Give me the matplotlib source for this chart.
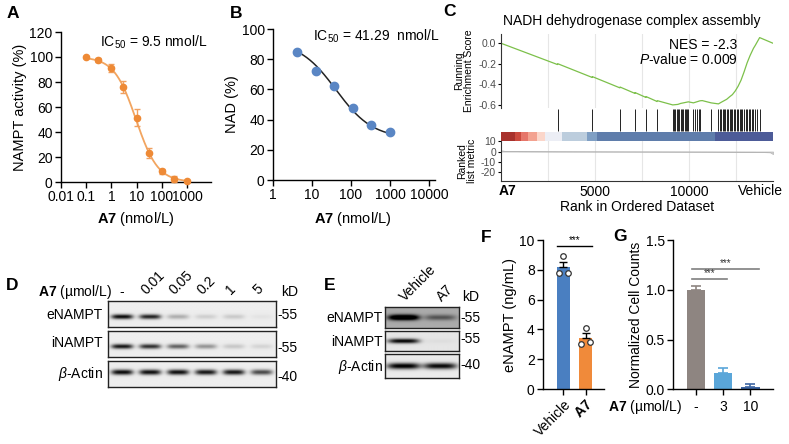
import numpy as np
import matplotlib
matplotlib.use('Agg')
import matplotlib.pyplot as plt
from matplotlib.ticker import NullLocator

# ---------------- data ----------------
A_conc = [0.1, 0.3, 1, 3, 10, 30, 100, 300, 1000]
A_activity = [100, 97.5, 91, 76, 51.5, 23, 8.5, 2.5, 1]
A_err = [1, 1.5, 3, 4.5, 7, 4, 2, 2.5, 1]
A_fit = dict(top=100, bottom=0, ic50=9.5, hill=1.0)

B_conc = [4.1, 12.3, 37, 111, 333, 1000]
B_nad = [84.5, 72.5, 62.5, 47.5, 36.5, 31.5]
B_fit = dict(top=92, bottom=27.5, ic50=41.29, hill=0.92)

C_total = 14460
C_es_rank = [0, 3000, 3015, 4850, 4860, 6320, 6330, 7120, 7130, 7700, 7713, 8300, 8316,
             9130, 9400, 9560, 9700, 9830, 9960, 10230, 10580, 10700, 11170, 11560, 11700,
             11850, 12000, 12160, 12300, 12450, 12600, 12760, 12920, 13085, 13240, 13420,
             13520, 13750, 14460]
C_es_val = [0, -0.207, -0.199, -0.333, -0.325, -0.434, -0.426, -0.488, -0.480, -0.527, -0.519,
            -0.567, -0.559, -0.600, -0.595, -0.585, -0.580, -0.575, -0.570, -0.580, -0.560,
            -0.558, -0.580, -0.590, -0.575, -0.560, -0.545, -0.520, -0.500, -0.465, -0.420,
            -0.360, -0.280, -0.190, -0.120, -0.050, -0.020, 0.055, 0.0]
C_hits = [3015, 4860, 6330, 7130, 7713, 8316,
          9130, 9200, 9260, 9330, 9400, 9470, 9560, 9640, 9700, 9760, 9830, 9900, 9960,
          10230, 10300, 10420, 10500, 10580, 11170,
          11560, 11640, 11700, 11780, 11850, 11930, 12000, 12080, 12160, 12230, 12300, 12380,
          12450, 12530, 12600, 12680, 12760, 12830, 12920, 13000, 13080, 13160, 13240, 13330,
          13420, 13520, 13620, 13750]
C_bar_edges = [0, 745, 1046, 1454, 1933, 2340, 3227, 4557, 5090, 11383, 14460]
C_bar_colors = ['#a8322d', '#cc4a3e', '#e6766a', '#f3a290', '#fbd6ca', '#eceef5',
                '#bccddd', '#7f9fc4', '#5f7dab', '#4d5b98']
C_metric_rank = [0, 200, 1000, 3000, 7000, 11000, 13500, 14300, 14460]
C_metric_val = [1.2, 0.6, 0.3, 0.15, 0.0, -0.15, -0.3, -0.8, -2.5]

D_lanes = ['-', '0.01', '0.05', '0.2', '1', '5']
D_eNAMPT = [0.9, 0.8, 0.25, 0.12, 0.14, 0.04]
D_iNAMPT = [0.85, 0.75, 0.55, 0.35, 0.15, 0.10]
D_actin = [0.9, 0.88, 0.88, 0.85, 0.85, 0.65]
E_lanes = ['Vehicle', 'A7']
E_eNAMPT = [1.0, 0.35]
E_iNAMPT = [0.9, 0.03]
E_actin = [0.95, 0.9]

F_groups = ['Vehicle', 'A7']
F_points = [[8.9, 7.8, 7.8], [4.1, 3.05, 3.15]]
F_sem = [0.38, 0.32]

G_groups = ['-', '3', '10']
G_means = [1.0, 0.16, 0.025]
G_err = [0.04, 0.055, 0.028]

# ---------------- setup ----------------
plt.rcParams.update({
    'font.family': ['Liberation Sans', 'DejaVu Sans'],
    'font.size': 10,
    'mathtext.fontset': 'custom',
    'mathtext.rm': 'Liberation Sans',
    'mathtext.it': 'Liberation Sans:italic',
    'mathtext.bf': 'Liberation Sans:bold',
    'axes.unicode_minus': False,
    'axes.linewidth': 1.0,
})
W, H = 789, 444
fig = plt.figure(figsize=(W / 100, H / 100), dpi=100)


def axp(x0, y0, x1, y1):
    return fig.add_axes([x0 / W, 1 - y1 / H, (x1 - x0) / W, (y1 - y0) / H])


def T(x, y, s, **kw):
    return fig.text(x / W, 1 - y / H, s, **kw)


def prism(ax):
    ax.spines['top'].set_visible(False)
    ax.spines['right'].set_visible(False)
    ax.tick_params(direction='out', length=4, width=1, labelsize=10, pad=2)


LBL = 10.5

# ---------------- A ----------------
axA = axp(61, 32, 211, 182)
prism(axA)
axA.set_xscale('log')
axA.set_xlim(0.01, 9000)
axA.set_ylim(0, 120)
axA.set_xticks([0.01, 0.1, 1, 10, 100, 1000])
axA.set_xticklabels(['0.01', '0.1', '1', '10', '100', '1000'])
axA.xaxis.set_minor_locator(NullLocator())
axA.set_yticks(range(0, 121, 20))
xs = np.logspace(np.log10(A_conc[0]), np.log10(A_conc[-1]), 200)
ys = A_fit['bottom'] + (A_fit['top'] - A_fit['bottom']) / (1 + (xs / A_fit['ic50']) ** A_fit['hill'])
axA.plot(xs, ys, color='#f2a560', lw=1.3)
axA.errorbar(A_conc, A_activity, yerr=A_err, fmt='o', color='#ee8a36', ecolor='#f0a060',
             ms=4.5, capsize=2.5, elinewidth=1, clip_on=False, zorder=3)
axA.set_ylabel('NAMPT activity (%)', fontsize=LBL, labelpad=2)
T(136, 219, r'$\mathbf{A7}$ (nmol/L)', ha='center', va='center', fontsize=LBL)
T(100, 42, r'IC$_{50}$ = 9.5 nmol/L', ha='left', va='center', fontsize=10)

# ---------------- B ----------------
axB = axp(273, 29, 435, 180)
prism(axB)
axB.set_xscale('log')
axB.set_xlim(1, 10 ** (162 / 39))
axB.set_ylim(0, 100)
axB.set_xticks([1, 10, 100, 1000, 10000])
axB.set_xticklabels(['1', '10', '100', '1000', '10000'])
axB.xaxis.set_minor_locator(NullLocator())
axB.set_yticks(range(0, 101, 20))
xs = np.logspace(np.log10(B_conc[0]), np.log10(B_conc[-1]), 200)
ys = B_fit['bottom'] + (B_fit['top'] - B_fit['bottom']) / (1 + (xs / B_fit['ic50']) ** B_fit['hill'])
axB.plot(xs, ys, color='#222222', lw=1.1)
axB.plot(B_conc, B_nad, 'o', color='#5a86c4', ms=6, zorder=3, clip_on=False)
axB.set_ylabel('NAD (%)', fontsize=LBL, labelpad=2)
T(353, 219, r'$\mathbf{A7}$ (nmol/L)', ha='center', va='center', fontsize=LBL)
T(313, 36, r'IC$_{50}$ = 41.29  nmol/L', ha='left', va='center', fontsize=10)

# ---------------- C ----------------
grid_c = '#e6e6e6'
tick_c = '#4d4d4d'
axES = axp(501, 34, 773, 108)
axES.set_xlim(0, C_total)
axES.set_ylim(-0.63, 0.09)
for s in ['top', 'right', 'bottom']:
    axES.spines[s].set_visible(False)
axES.spines['left'].set_color('#333333')
axES.spines['left'].set_linewidth(0.8)
axES.set_xticks([])
axES.set_yticks([0, -0.2, -0.4, -0.6])
axES.set_yticklabels(['0.0', '-0.2', '-0.4', '-0.6'])
axES.tick_params(axis='y', length=2, width=0.8, labelsize=7.5, labelcolor=tick_c, pad=1.5)
for g in range(2500, C_total, 2500):
    axES.axvline(g, color=grid_c, lw=0.8, zorder=0)
axES.plot(C_es_rank, C_es_val, color='#7cc04a', lw=0.9)
axES.text(0.87, 0.85, 'NES = -2.3', transform=axES.transAxes, ha='right', va='center', fontsize=10)
axES.text(0.87, 0.65, r'$\mathit{P}$-value = 0.009', transform=axES.transAxes, ha='right',
          va='center', fontsize=10)
axES.set_ylabel('Running\nEnrichment Score', fontsize=7.5, labelpad=3, linespacing=1.0)
T(632, 21, 'NADH dehydrogenase complex assembly', ha='center', va='center', fontsize=10)

axHit = axp(501, 108, 773, 141)
axHit.set_xlim(0, C_total)
axHit.set_ylim(0, 1)
axHit.axis('off')
axHit.vlines(C_hits, 0.3, 0.97, color='#222222', lw=0.7)
for i, c in enumerate(C_bar_colors):
    axHit.axvspan(C_bar_edges[i], C_bar_edges[i + 1], ymin=0, ymax=0.28, color=c, lw=0)

axR = axp(501, 141, 773, 181)
axR.set_xlim(0, C_total)
axR.set_ylim(-28.6, 10.2)
for s in ['top', 'right']:
    axR.spines[s].set_visible(False)
for s in ['left', 'bottom']:
    axR.spines[s].set_color('#333333')
    axR.spines[s].set_linewidth(0.8)
for g in range(2500, C_total, 2500):
    axR.axvline(g, color=grid_c, lw=0.8, zorder=0)
axR.fill_between(C_metric_rank, 0, C_metric_val, color='#cfcfcf', lw=0.5, edgecolor='#b5b5b5')
axR.set_yticks([10, 0, -10, -20])
axR.set_yticklabels(['10', '0', '-10', '-20'])
axR.tick_params(axis='y', length=2, width=0.8, labelsize=7.5, labelcolor=tick_c, pad=1.5)
axR.set_xticks([5000, 10000])
axR.set_xticklabels(['5000', '10000'])
axR.tick_params(axis='x', length=0, labelsize=10, pad=3)
axR.set_ylabel('Ranked\nlist metric', fontsize=7.5, labelpad=3, linespacing=1.0)
T(508, 191, 'A7', ha='center', va='center', fontsize=10, fontweight='bold')
T(760, 191, 'Vehicle', ha='center', va='center', fontsize=10)
T(637, 207, 'Rank in Ordered Dataset', ha='center', va='center', fontsize=10)


# ---------------- blots ----------------
def blot(box, vals, bg, yc, sy, lane_w=0.78):
    x0, y0, x1, y1 = box
    ax = axp(x0, y0, x1, y1)
    n = len(vals)
    X, Y = np.meshgrid(np.linspace(0, n, n * 40), np.linspace(0, 1, 60))
    dark = np.full_like(X, bg)
    for i, v in enumerate(vals):
        px = np.exp(-(np.abs(X - (i + 0.5)) / (lane_w / 2)) ** 4)
        py = np.exp(-((Y - yc) / sy) ** 2)
        dark = dark + v * px * py
    dark = np.clip(dark, 0, 1)
    ax.imshow(1 - dark, cmap='gray', vmin=0, vmax=1, extent=(0, n, 0, 1), origin='lower',
              aspect='auto', interpolation='bilinear')
    ax.set_xticks([])
    ax.set_yticks([])
    for s in ax.spines.values():
        s.set_linewidth(1.0)
        s.set_color('#222222')
    return ax


blot((108, 300.7, 276, 327), D_eNAMPT, 0.07, 0.38, 0.09)
blot((108, 330.7, 276, 357), D_iNAMPT, 0.07, 0.39, 0.09)
blot((108, 360.7, 276, 386.7), D_actin, 0.07, 0.55, 0.1)
T(103, 315, 'eNAMPT', ha='right', va='center', fontsize=10)
T(103, 343, 'iNAMPT', ha='right', va='center', fontsize=10)
T(103, 374, r'$\mathit{β}$-Actin', ha='right', va='center', fontsize=10)
T(277, 315, '-55', ha='left', va='center', fontsize=10)
T(277, 348, '-55', ha='left', va='center', fontsize=10)
T(277, 377, '-40', ha='left', va='center', fontsize=10)
T(290, 292, 'kD', ha='center', va='center', fontsize=10)
T(38, 292, r'$\mathbf{A7}$ (µmol/L)', ha='left', va='center', fontsize=10)
lane_w_px = (276 - 108) / len(D_lanes)
for i, lab in enumerate(D_lanes):
    cx = 108 + lane_w_px * (i + 0.5)
    if lab == '-':
        T(cx, 292, lab, ha='center', va='center', fontsize=10)
    else:
        T(cx - 1, 297, lab, ha='left', va='bottom', rotation=45, rotation_mode='anchor',
          fontsize=10)

blot((385, 307, 459, 328), E_eNAMPT, 0.33, 0.48, 0.13, lane_w=0.85)
blot((385, 331, 459, 351), E_iNAMPT, 0.1, 0.5, 0.12, lane_w=0.85)
blot((385, 354, 459, 378), E_actin, 0.08, 0.5, 0.13, lane_w=0.9)
T(383, 318, 'eNAMPT', ha='right', va='center', fontsize=10)
T(383, 342, 'iNAMPT', ha='right', va='center', fontsize=10)
T(383, 367, r'$\mathit{β}$-Actin', ha='right', va='center', fontsize=10)
T(460, 318, '-55', ha='left', va='center', fontsize=10)
T(460, 339, '-55', ha='left', va='center', fontsize=10)
T(460, 365, '-40', ha='left', va='center', fontsize=10)
T(471, 297, 'kD', ha='center', va='center', fontsize=10)
lane_w_px = (459 - 385) / len(E_lanes)
for i, lab in enumerate(E_lanes):
    cx = 385 + lane_w_px * (i + 0.5)
    T(cx + 4, 304, lab, ha='left', va='bottom', rotation=45, rotation_mode='anchor', fontsize=10)

# ---------------- F ----------------
axF = axp(543, 240, 604, 389)
prism(axF)
axF.set_xlim(-0.93, 1.84)
axF.set_ylim(0, 10)
F_means = [float(np.mean(p)) for p in F_points]
F_colors = ['#4a7fc1', '#f08a3a']
axF.bar(range(2), F_means, width=0.61, color=F_colors, zorder=1)
for i in range(2):
    axF.errorbar(i, F_means[i], yerr=[[0], [F_sem[i]]], color='black', capsize=3, elinewidth=1,
                 capthick=1, zorder=2)
offsets = [[0, -0.2, 0.2], [0, -0.22, 0.2]]
for i, pts in enumerate(F_points):
    axF.scatter(np.array(offsets[i]) + i, pts, s=16, facecolor='white', edgecolor='#333333',
                lw=0.9, zorder=3)
axF.set_yticks(range(0, 11, 2))
axF.set_xticks([0, 1])
axF.set_xticklabels(['Vehicle', r'$\mathbf{A7}$'], rotation=45, ha='right',
                    rotation_mode='anchor', fontsize=10)
axF.set_ylabel('eNAMPT (ng/mL)', fontsize=LBL, labelpad=2)
axF.plot([-0.3, 1.3], [9.6, 9.6], color='black', lw=1)
axF.text(0.5, 9.65, '***', ha='center', va='bottom', fontsize=7)

# ---------------- G ----------------
axG = axp(673, 240, 773, 389.3)
prism(axG)
axG.set_xlim(-0.84, 2.83)
axG.set_ylim(0, 1.5)
G_colors = ['#8e8581', '#5aa6d9', '#3e66a3']
axG.bar(range(3), G_means, width=0.68, color=G_colors, zorder=1)
for i in range(3):
    axG.errorbar(i, G_means[i], yerr=[[0], [G_err[i]]], color=G_colors[i], capsize=3.5,
                 elinewidth=1.2, capthick=1.2, zorder=2)
axG.set_yticks([0, 0.5, 1.0, 1.5])
axG.set_yticklabels(['0.0', '0.5', '1.0', '1.5'])
axG.set_xticks(range(3))
axG.set_xticklabels(G_groups, fontsize=10)
axG.tick_params(axis='x', pad=4)
axG.set_ylabel('Normalized Cell Counts', fontsize=10, labelpad=2)
axG.plot([-0.15, 1.15], [1.11, 1.11], color='#7f7f7f', lw=1.2)
axG.plot([-0.15, 2.3], [1.21, 1.21], color='#7f7f7f', lw=1.2)
axG.text(0.5, 1.115, '***', ha='center', va='bottom', fontsize=7, color='#333333')
axG.text(1.1, 1.215, '***', ha='center', va='bottom', fontsize=7, color='#333333')
T(682, 407, r'$\mathbf{A7}$ (µmol/L)', ha='right', va='center', fontsize=10)

# ---------------- panel letters ----------------
for lx, ly, L in [(13, 13, 'A'), (236, 13, 'B'), (449, 12, 'C'), (12, 285, 'D'),
                  (330, 285, 'E'), (486, 237, 'F'), (620, 236, 'G')]:
    T(lx, ly, L, ha='center', va='center', fontsize=12.5, fontweight='bold')

fig.savefig('out.png', dpi=100)
